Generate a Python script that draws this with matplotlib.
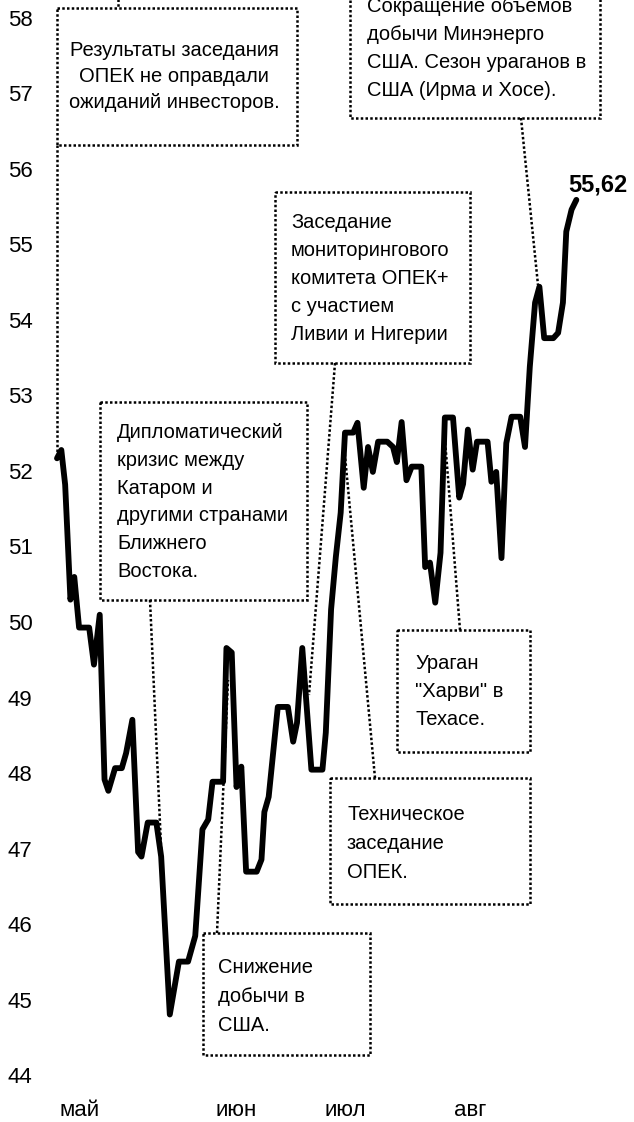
import matplotlib
matplotlib.use("Agg")
import matplotlib.pyplot as plt
from matplotlib.patches import Rectangle
from matplotlib.transforms import Affine2D

# Brent, USD/bbl - days counted from the first point of the series
days = [0.0, 0.9, 1.7, 2.8, 3.6, 4.6, 6.7, 7.7, 8.9, 9.9, 10.7, 12.1, 13.5,
        14.4, 15.7, 16.9, 17.6, 18.9, 20.7, 21.7, 23.5, 25.4, 27.3, 28.8,
        30.3, 31.5, 32.4, 34.6, 35.3, 36.4, 37.4, 38.4, 39.4, 41.6, 42.6,
        43.2, 44.1, 46.0, 48.1, 49.2, 50.0, 51.1, 53.0, 55.3, 56.0, 57.1,
        58.1, 59.1, 60.0, 61.7, 62.6, 63.9, 64.8, 65.8, 66.9, 68.8, 70.0,
        70.8, 71.8, 72.8, 73.9, 75.9, 76.7, 77.7, 78.8, 79.9, 80.8, 82.5,
        83.8, 84.6, 85.6, 86.6, 87.5, 89.7, 90.5, 91.5, 92.6, 93.6, 94.7,
        96.5, 97.5, 98.5, 99.6, 100.5, 101.5, 103.4, 104.4, 105.4, 106.1,
        107.2, 108.2]
prices = [52.20, 52.31, 51.85, 50.33, 50.63, 49.96, 49.96, 49.47, 50.13,
          47.95, 47.80, 48.10, 48.10, 48.30, 48.74, 46.99, 46.93, 47.38,
          47.38, 46.93, 44.84, 45.54, 45.54, 45.88, 47.29, 47.42, 47.92,
          47.92, 49.69, 49.63, 47.85, 48.12, 46.73, 46.73, 46.89, 47.52,
          47.72, 48.91, 48.91, 48.45, 48.70, 49.69, 48.08, 48.08, 48.57,
          50.20, 50.90, 51.48, 52.54, 52.54, 52.67, 51.81, 52.35, 52.02,
          52.42, 52.42, 52.35, 52.15, 52.68, 51.91, 52.09, 52.09, 50.76,
          50.82, 50.29, 50.95, 52.74, 52.74, 51.68, 51.86, 52.58, 52.05,
          52.42, 52.42, 51.89, 52.02, 50.88, 52.40, 52.75, 52.75, 52.35,
          53.41, 54.26, 54.47, 53.79, 53.79, 53.86, 54.26, 55.20, 55.49,
          55.62]
y_ticks = [44, 45, 46, 47, 48, 49, 50, 51, 52, 53, 54, 55, 56, 57, 58]
month_pos = [4.6, 37.3, 60.0, 86.0]
month_labels = ["май", "июн", "июл", "авг"]
last_label = "55,62"

notes = [
    # text lines, box (x0, y0, x1, y1) in px, text x, first line y, line step, align, connector
    (["Результаты заседания", "ОПЕК не оправдали", "ожиданий инвесторов."],
     (57, 8, 297, 145), 174, 50, 26.5, "center", [(57, 145), (57, 452)]),
    (["Сокращение объемов", "добычи Минэнерго", "США. Сезон ураганов в",
      "США (Ирма и Хосе)."],
     (350, -20, 600, 118), 367, 7, 28, "left", [(521, 118), (538, 285)]),
    (["Заседание", "мониторингового", "комитета ОПЕК+", "с участием",
      "Ливии и Нигерии"],
     (275, 192, 470, 363), 291, 222, 28, "left", [(335, 363), (309, 695)]),
    (["Дипломатический", "кризис между", "Катаром и", "другими странами",
      "Ближнего", "Востока."],
     (100, 402, 307, 600), 117, 432, 28, "left", [(150, 600), (164, 913)]),
    (["Ураган", "\"Харви\" в", "Техасе."],
     (397, 630, 530, 752), 415, 664, 28, "left", [(460, 630), (445, 440)]),
    (["Техническое", "заседание", "ОПЕК."],
     (330, 778, 530, 904), 347, 815, 29, "left", [(375, 778), (344, 445)]),
    (["Снижение", "добычи в", "США."],
     (203, 933, 370, 1055), 218, 968, 29, "left", [(217, 933), (228, 680)]),
]

plt.rcParams["font.family"] = ["Liberation Sans", "DejaVu Sans"]

W, H = 634, 1122
fig = plt.figure(figsize=(W / 100, H / 100), dpi=100)
ax = fig.add_axes([0, 0, 1, 1])
ax.set_xlim(-57 / 4.8, (W - 57) / 4.8)
ax.set_ylim(58 - (H - 20) / 75.57, 58 + 20 / 75.57)
ax.axis("off")

# pixel transform (origin top-left, like the picture)
pix = Affine2D().scale(1 / W, -1 / H).translate(0, 1) + fig.transFigure

ax.plot(days, prices, color="black", lw=4.2, solid_joinstyle="round",
        solid_capstyle="round", zorder=3)

for v in y_ticks:
    ax.annotate(str(v), xy=(0, v), xycoords=("figure pixels", "data"),
                xytext=(8, 0), textcoords="offset pixels",
                ha="left", va="center", fontsize=16)

for pos, lab in zip(month_pos, month_labels):
    ax.annotate(lab, xy=(pos, 0), xycoords=("data", "figure pixels"),
                xytext=(0, 12), textcoords="offset pixels",
                ha="center", va="center", fontsize=16)

ax.annotate(last_label, xy=(days[-1], prices[-1]), xytext=(22, 15),
            textcoords="offset pixels", ha="center", va="center",
            fontsize=17, fontweight="bold")

dot = (0, (1, 0.9))
for lines, box, tx, ty, step, ha, conn in notes:
    x0, y0, x1, y1 = box
    ax.add_patch(Rectangle((x0, y0), x1 - x0, y1 - y0, transform=pix,
                           fill=False, edgecolor="black", lw=1.8,
                           linestyle=dot, zorder=4))
    (cx0, cy0), (cx1, cy1) = conn
    ax.plot([cx0, cx1], [cy0, cy1], transform=pix, color="black", lw=1.8,
            linestyle=dot, zorder=4)
    for i, line in enumerate(lines):
        ax.text(tx, ty + i * step, line, transform=pix, ha=ha, va="center",
                fontsize=14.5)

# short leader running off the top edge above the first box
ax.plot([118, 118], [-5, 8], transform=pix, color="black", lw=1.8,
        linestyle=dot, zorder=4)

fig.savefig("out.png", dpi=100)
